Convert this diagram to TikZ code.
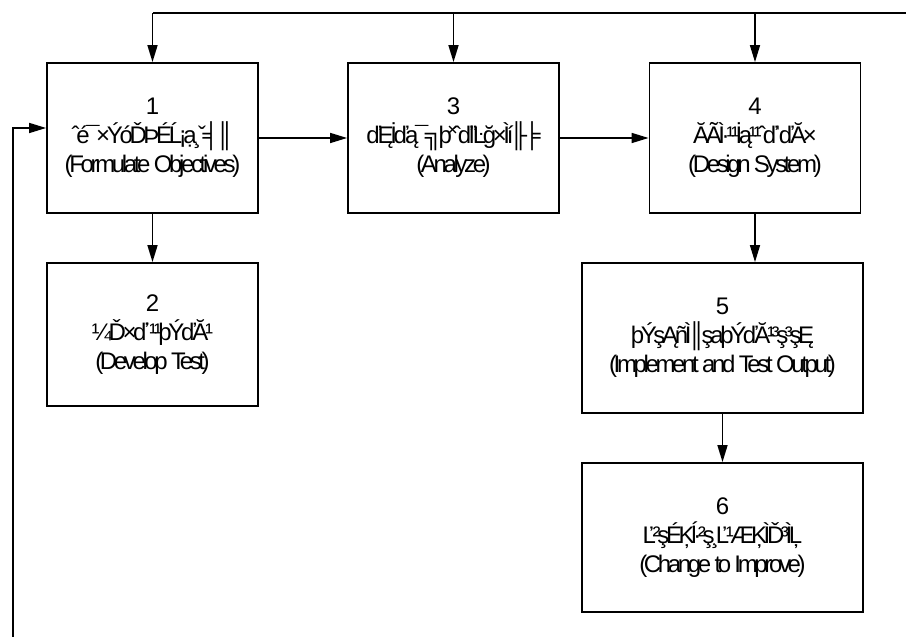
\documentclass[tikz,border=0pt]{standalone}
\usepackage{fontspec}
\setmainfont{Liberation Sans}
\newfontfamily\squeezed[LetterSpace=-14]{Liberation Sans}
\usetikzlibrary{arrows.meta}
\tikzset{
  stepbox/.style={draw=black, line width=1.8pt, minimum width=211pt, minimum height=150pt, inner sep=0pt,
    align=center, font=\fontsize{24}{29}\selectfont\squeezed},
  wide/.style={minimum width=281pt},
  link/.style={line width=1.6pt, -{Triangle[length=17pt,width=10pt]}},
  wire/.style={line width=1.6pt}
}
\begin{document}
\begin{tikzpicture}[x=1pt,y=1pt]
\useasboundingbox (0,0) rectangle (906,637);
% y = 637 - pixel row
\node[stepbox] (b1) at (152.5,499) {1\\ˆé¯×ÝóĎÞÉĹ¡ạ¸ˇ╡║\\(Formulate Objectives)};
\node[stepbox] (b3) at (453.5,499) {3\\ďĘİďą¯╗þ˟ˆďľĿğ×Ìí╟╞\\(Analyze)};
\node[stepbox] (b4) at (755,499) {4\\ĂÃÌ·¹¹İą¹¹ˆďˈďĂ×\\(Design System)};
\node[stepbox, minimum height=143pt] (b2) at (152.5,302.5) {2\\¼Ď×ď˙¹¹þÝďĂ¹\\(Develop Test)};
\node[stepbox, wide] (b5) at (722.5,299) {5\\þÝşĄñÌ║şaþÝďĂ¹³ş³şĘ\\(Implement and Test Output)};
\node[stepbox, wide, minimum height=149pt] (b6) at (722.5,99.5) {6\\Ľ²şÉĶĺ·²ş¸Ľ¹ÆĶÌĎ³ÌĻ\\(Change to Improve)};
% top feedback bus
\coordinate (tr) at (906,624);
\coordinate (t1) at (b1.north |- tr);
\coordinate (t3) at (b3.north |- tr);
\coordinate (t4) at (b4.north |- tr);
\draw[wire] (tr) -- (t1);
\draw[link] (t1) -- (b1.north);
\draw[link] (t3) -- (b3.north);
\draw[link] (t4) -- (b4.north);
% left feedback
\coordinate (lb) at (13,0);
\coordinate (lt) at (13,509);
\draw[link] (lb) -- (lt) -- (b1.west |- lt);
% forward flow
\draw[link] (b1.east) -- (b3.west);
\draw[link] (b3.east) -- (b4.west);
\draw[link] (b1.south) -- (b2.north);
\draw[link] (b4.south) -- (b4.south |- b5.north);
\draw[link] (b5.south) -- (b6.north);
\end{tikzpicture}
\end{document}
